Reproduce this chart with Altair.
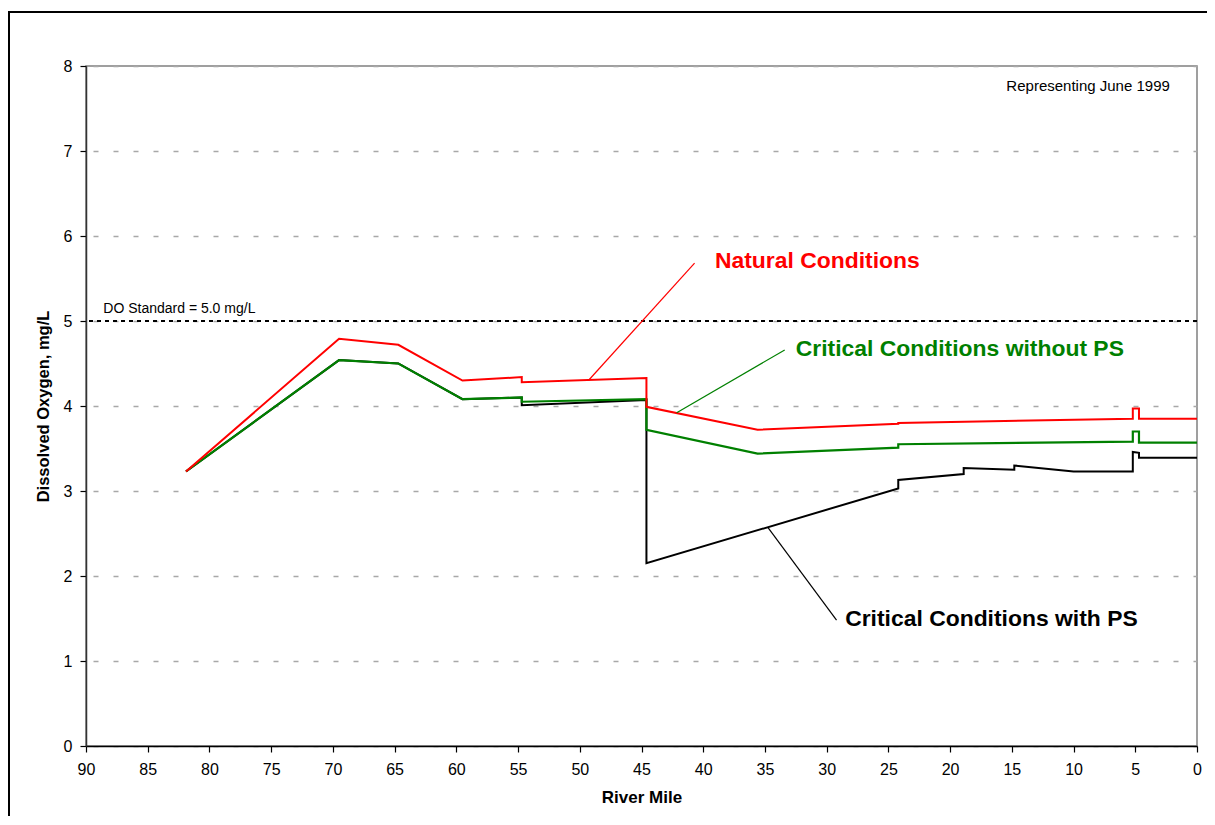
import altair as alt
import pandas as pd

FONT = "Liberation Sans"

# ---- data ----
nat_mile = [81.9, 69.5, 64.7, 59.5, 54.7, 54.7, 44.6, 44.6, 35.6, 24.2, 24.2, 5.2, 5.2, 4.7, 4.7, 0.0]
nat_do = [3.23, 4.79, 4.72, 4.30, 4.34, 4.28, 4.33, 3.99, 3.72, 3.79, 3.80, 3.85, 3.97, 3.97, 3.85, 3.85]

nops_mile = [81.9, 69.5, 64.7, 59.5, 54.7, 54.7, 44.6, 44.6, 35.6, 24.2, 24.2, 5.2, 5.2, 4.7, 4.7, 0.0]
nops_do = [3.23, 4.54, 4.50, 4.08, 4.10, 4.05, 4.08, 3.72, 3.44, 3.51, 3.55, 3.58, 3.70, 3.70, 3.57, 3.57]

ps_mile = [81.9, 69.5, 64.7, 59.5, 54.7, 54.7, 44.6, 44.6, 24.2, 24.2, 18.9, 18.9, 14.8, 14.8, 10.0, 5.2, 5.2, 4.7, 4.7, 0.0]
ps_do = [3.23, 4.54, 4.50, 4.08, 4.10, 4.01, 4.07, 2.15, 3.03, 3.13, 3.20, 3.27, 3.25, 3.30, 3.23, 3.23, 3.46, 3.45, 3.39, 3.39]

do_standard = 5.0
x_ticks = list(range(0, 91, 5))
y_ticks = list(range(0, 9))

label_text = ["Natural Conditions", "Critical Conditions without PS", "Critical Conditions with PS"]
label_color = ["#FF0000", "#008000", "#000000"]
label_x = [39.05, 32.5, 28.5]
label_y = [5.705, 4.67, 1.49]
lead_x1 = [49.3, 42.15, 34.75]
lead_y1 = [4.30, 3.92, 2.57]
lead_x2 = [40.7, 33.4, 29.2]
lead_y2 = [5.68, 4.66, 1.48]

std_label = "DO Standard = 5.0 mg/L"
std_label_x = [88.6]
std_label_y = [5.14]
note_label = "Representing June 1999"
note_x = [2.2]
note_y = [7.76]

# ---- scales / axes ----
x_scale = alt.Scale(domain=[0, 90], reverse=True, nice=False, zero=False)
y_scale = alt.Scale(domain=[0, 8], nice=False)

x_axis = alt.Axis(values=x_ticks, title="River Mile", grid=False, labelFontSize=16,
                  labelFont=FONT, titleFont=FONT, titleFontSize=17, titleFontWeight="bold",
                  titleColor="black", labelColor="black", tickSize=6, tickColor="black",
                  domainColor="black", domainWidth=1.5, tickWidth=1.2, labelPadding=9,
                  titlePadding=12, labelFlush=False)
y_axis = alt.Axis(values=y_ticks, title="Dissolved Oxygen, mg/L", grid=True,
                  gridDash=[5, 15], gridColor="#A8A8A8", gridWidth=1.5, gridDashOffset=1,
                  labelFontSize=16, labelFont=FONT, titleFont=FONT, titleFontSize=16.5,
                  titleFontWeight="bold", titleColor="black", labelColor="black",
                  tickSize=6, tickColor="black", domainColor="#333333", domainWidth=1.5,
                  tickWidth=1.2, labelPadding=8, titlePadding=12, labelFlush=False)


def series_df(miles, dos):
    return pd.DataFrame({"mile": miles, "do": dos, "idx": list(range(len(miles)))})


def line_layer(miles, dos, color, width):
    return alt.Chart(series_df(miles, dos)).mark_line(color=color, strokeWidth=width).encode(
        x=alt.X("mile:Q", scale=x_scale, axis=x_axis),
        y=alt.Y("do:Q", scale=y_scale, axis=y_axis),
        order=alt.Order("idx:Q"),
    )


one = pd.DataFrame({"a": [0]})
frame_left = alt.Chart(one).mark_rule(color="black", strokeWidth=2).encode(
    x=alt.value(-77), y=alt.value(-54), y2=alt.value(900))
frame_top = alt.Chart(one).mark_rule(color="black", strokeWidth=2).encode(
    x=alt.value(-78), x2=alt.value(1300), y=alt.value(-54))
edge_cover = alt.Chart(one).mark_rule(color="white", strokeWidth=4).encode(
    x=alt.value(1120), y=alt.value(-52), y2=alt.value(900))

std_line = alt.Chart(pd.DataFrame({"do": [do_standard]})).mark_rule(
    color="black", strokeWidth=2, strokeDash=[4, 4]
).encode(y=alt.Y("do:Q", scale=y_scale, axis=y_axis))

black_line = line_layer(ps_mile, ps_do, "#000000", 2)
green_line = line_layer(nops_mile, nops_do, "#008000", 2.2)
red_line = line_layer(nat_mile, nat_do, "#FF0000", 2)

lead_df = pd.DataFrame({"x1": lead_x1, "y1": lead_y1, "x2": lead_x2, "y2": lead_y2,
                        "c": label_color})
leaders = alt.Chart(lead_df).mark_rule(strokeWidth=1.2).encode(
    x=alt.X("x1:Q", scale=x_scale, axis=x_axis),
    y=alt.Y("y1:Q", scale=y_scale, axis=y_axis),
    x2="x2:Q", y2="y2:Q",
    color=alt.Color("c:N", scale=None),
)

lab_df = pd.DataFrame({"t": label_text, "x": label_x, "y": label_y, "c": label_color})
labels = alt.Chart(lab_df).mark_text(
    align="left", baseline="middle", font=FONT, fontSize=22.9, fontWeight="bold"
).encode(
    x=alt.X("x:Q", scale=x_scale, axis=x_axis),
    y=alt.Y("y:Q", scale=y_scale, axis=y_axis),
    text="t:N",
    color=alt.Color("c:N", scale=None),
)

std_text = alt.Chart(pd.DataFrame({"t": [std_label], "x": std_label_x, "y": std_label_y})).mark_text(
    align="left", baseline="middle", font=FONT, fontSize=14, color="black"
).encode(x=alt.X("x:Q", scale=x_scale, axis=x_axis), y=alt.Y("y:Q", scale=y_scale, axis=y_axis), text="t:N")

note_text = alt.Chart(pd.DataFrame({"t": [note_label], "x": note_x, "y": note_y})).mark_text(
    align="right", baseline="middle", font=FONT, fontSize=15, color="black"
).encode(x=alt.X("x:Q", scale=x_scale, axis=x_axis), y=alt.Y("y:Q", scale=y_scale, axis=y_axis), text="t:N")

chart = alt.layer(
    frame_left, frame_top, std_line, black_line, green_line, red_line, leaders, labels,
    std_text, note_text, edge_cover
).properties(
    width=1111, height=680,
    padding={"left": 78, "top": 58, "right": 10, "bottom": 70},
    autosize=alt.AutoSizeParams(type="none"),
    background="white",
).configure_view(
    stroke="#808080", strokeWidth=1.5
)

chart.save("out.html", embed_options={"renderer": "svg", "actions": False})
